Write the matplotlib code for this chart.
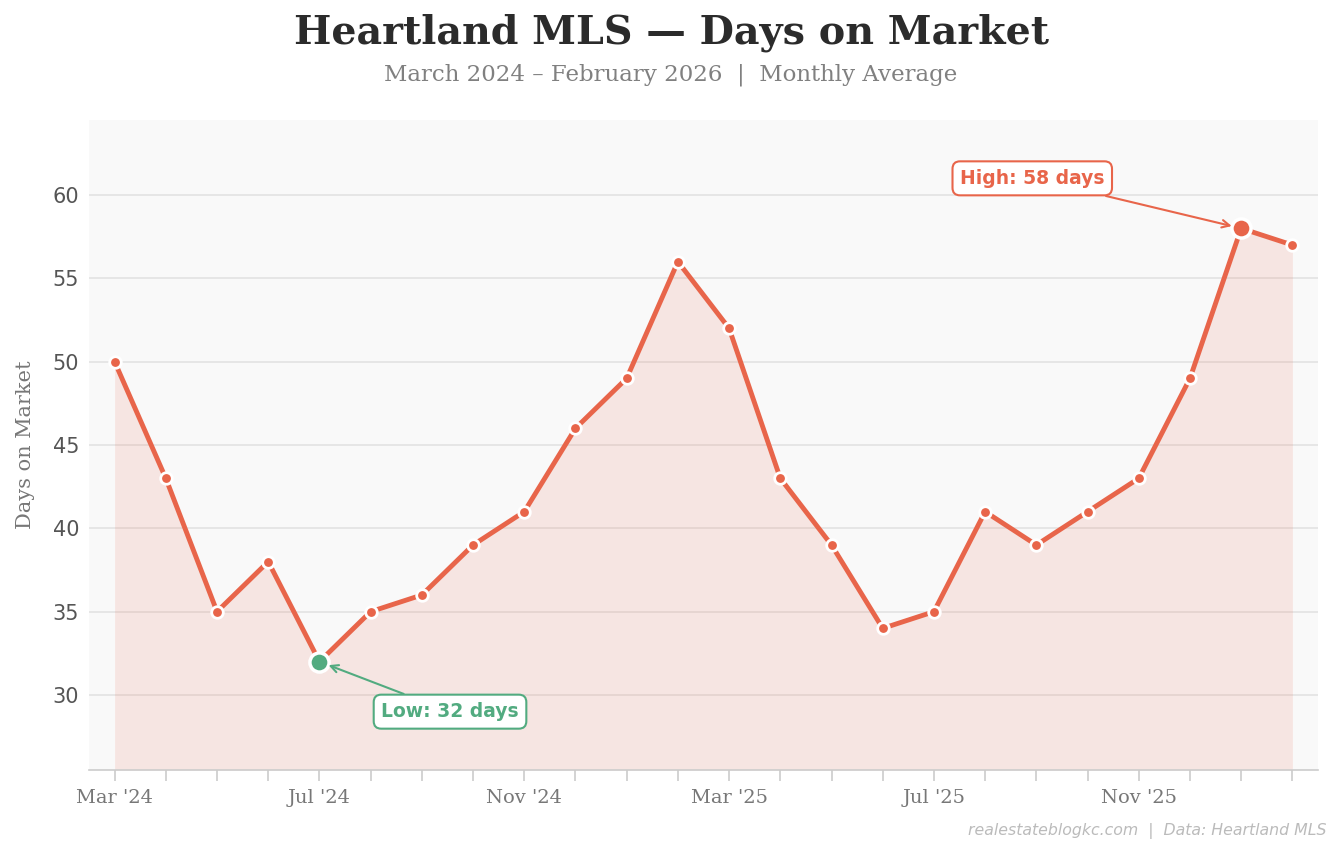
import matplotlib
matplotlib.use("Agg")
import matplotlib.pyplot as plt

months = ["Mar '24", "Apr '24", "May '24", "Jun '24", "Jul '24", "Aug '24", "Sep '24", "Oct '24",
          "Nov '24", "Dec '24", "Jan '25", "Feb '25", "Mar '25", "Apr '25", "May '25", "Jun '25",
          "Jul '25", "Aug '25", "Sep '25", "Oct '25", "Nov '25", "Dec '25", "Jan '26", "Feb '26"]
days = [50, 43, 35, 38, 32, 35, 36, 39, 41, 46, 49, 56, 52, 43, 39, 34, 35, 41, 39, 41, 43, 49, 58, 57]

red = '#E8654A'
green = '#52AB80'

fig = plt.figure(figsize=(13.42, 8.55), dpi=100)
ax = fig.add_axes([89 / 1342, 1 - 770 / 855, (1318 - 89) / 1342, (770 - 120) / 855])
ax.set_facecolor('#F9F9F9')

x = list(range(len(days)))
ymin, ymax = 25.5, 64.5
ax.fill_between(x, days, ymin, color=red, alpha=0.13, linewidth=0, zorder=1)
ax.plot(x, days, color=red, linewidth=3.5, zorder=3, solid_capstyle='round')
ax.scatter(x, days, s=70, color=red, edgecolor='white', linewidth=2, zorder=4)

lo = days.index(min(days))
hi = days.index(max(days))
ax.scatter([lo], [days[lo]], s=190, color=green, edgecolor='white', linewidth=2.5, zorder=5)
ax.scatter([hi], [days[hi]], s=190, color=red, edgecolor='white', linewidth=2.5, zorder=5)

ax.annotate(f'High: {days[hi]} days', xy=(hi, days[hi]), xytext=(hi - 4.08, 61),
            ha='center', va='center', fontsize=13.5, fontweight='bold', color=red,
            bbox=dict(boxstyle='round,pad=0.4', fc='white', ec=red, lw=1.5),
            arrowprops=dict(arrowstyle='->', color=red, lw=1.5, shrinkA=0, shrinkB=7), zorder=6)
ax.annotate(f'Low: {days[lo]} days', xy=(lo, days[lo]), xytext=(lo + 2.55, 29),
            ha='center', va='center', fontsize=13.5, fontweight='bold', color=green,
            bbox=dict(boxstyle='round,pad=0.4', fc='white', ec=green, lw=1.5),
            arrowprops=dict(arrowstyle='->', color=green, lw=1.5, shrinkA=0, shrinkB=7), zorder=6)

ax.set_xlim(-0.5, len(days) - 0.5)
ax.set_ylim(ymin, ymax)
ax.set_yticks([30, 35, 40, 45, 50, 55, 60])
ax.set_xticks(x)
ax.set_xticklabels([m if i % 4 == 0 else '' for i, m in enumerate(months)],
                   fontfamily='DejaVu Serif', fontsize=14, color='#777777')
ax.tick_params(axis='x', length=8, color='#CCCCCC', width=1.2, pad=6)
ax.tick_params(axis='y', length=0, labelsize=15, labelcolor='#555555', pad=7)
ax.grid(axis='y', color='#E3E3E3', linewidth=1.2, zorder=0)
ax.set_axisbelow(True)
for s in ['top', 'right', 'left']:
    ax.spines[s].set_visible(False)
ax.spines['bottom'].set_color('#CCCCCC')
ax.spines['bottom'].set_linewidth(1.2)

ax.set_ylabel('Days on Market', fontfamily='DejaVu Serif', fontsize=15, color='#777777', labelpad=13)

fig.text(0.5, 1 - 33 / 855, 'Heartland MLS \u2014 Days on Market', ha='center', va='center',
         fontfamily='DejaVu Serif', fontweight='bold', fontsize=28.5, color='#2B2B2B')
fig.text(0.5, 1 - 75 / 855, 'March 2024 \u2013 February 2026  |  Monthly Average', ha='center', va='center',
         fontfamily='DejaVu Serif', fontsize=16.5, color='#808080')
fig.text(1327 / 1342, 1 - 831 / 855, 'realestateblogkc.com  |  Data: Heartland MLS', ha='right', va='center',
         fontstyle='italic', fontsize=11.3, color='#BBBBBB')

fig.savefig('out.png', dpi=100)
